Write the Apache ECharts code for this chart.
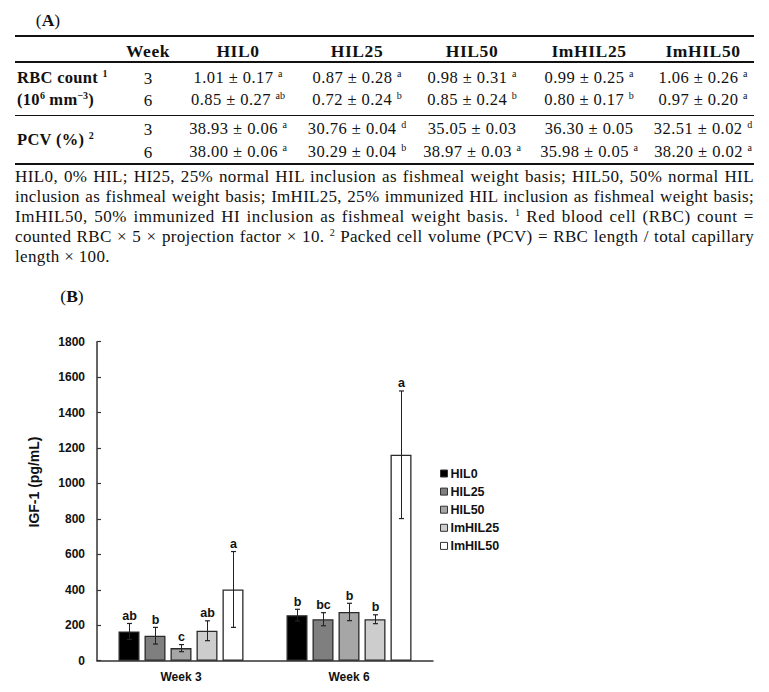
<!DOCTYPE html>
<html><head><meta charset="utf-8">
<script src="https://cdn.jsdelivr.net/npm/echarts@6/dist/echarts.min.js"></script>
<style>
html,body{margin:0;padding:0;background:#fff;}
#wrap{position:relative;width:769px;height:692px;overflow:hidden;background:#fff;}
#chart{position:absolute;left:0;top:0;width:769px;height:692px;}
.t{position:absolute;font-family:"Liberation Serif","Times New Roman",serif;color:#111;white-space:nowrap;line-height:1;}
.c{transform:translate(-50%,-50%);}
.l{transform:translate(0,-50%);}
.b{font-weight:bold;}
.rule{position:absolute;left:15px;width:739px;background:#111;}
sup{font-size:10px;vertical-align:0;position:relative;top:-6px;line-height:0;letter-spacing:0;}
.fnl{position:absolute;left:15px;font-family:"Liberation Serif","Times New Roman",serif;font-size:17px;color:#111;white-space:nowrap;line-height:1;transform:translate(0,-50%);}
</style></head>
<body><div id="wrap"><div id="chart"></div></div>
<script>
// ---------- Table (A) data ----------
const tableGroups = ['HIL0','HIL25','HIL50','ImHIL25','ImHIL50'];
const tableWeeks = ['3','6'];
const rbcWeek3 = ['1.01 ± 0.17','0.87 ± 0.28','0.98 ± 0.31','0.99 ± 0.25','1.06 ± 0.26'];
const rbcWeek3Sup = ['a','a','a','a','a'];
const rbcWeek6 = ['0.85 ± 0.27','0.72 ± 0.24','0.85 ± 0.24','0.80 ± 0.17','0.97 ± 0.20'];
const rbcWeek6Sup = ['ab','b','b','b','a'];
const pcvWeek3 = ['38.93 ± 0.06','30.76 ± 0.04','35.05 ± 0.03','36.30 ± 0.05','32.51 ± 0.02'];
const pcvWeek3Sup = ['a','d','','','d'];
const pcvWeek6 = ['38.00 ± 0.06','30.29 ± 0.04','38.97 ± 0.03','35.98 ± 0.05','38.20 ± 0.02'];
const pcvWeek6Sup = ['a','b','a','a','a'];
const footnoteLines = [
  'HIL0, 0% HIL; HI25, 25% normal HIL inclusion as fishmeal weight basis; HIL50, 50% normal HIL',
  'inclusion as fishmeal weight basis; ImHIL25, 25% immunized HIL inclusion as fishmeal weight basis;',
  'ImHIL50, 50% immunized HI inclusion as fishmeal weight basis. <sup>1</sup> Red blood cell (RBC) count =',
  'counted RBC × 5 × projection factor × 10. <sup>2</sup> Packed cell volume (PCV) = RBC length / total capillary',
  'length × 100.'
];

// ---------- Chart (B) data ----------
const chartWeeks = ['Week 3','Week 6'];
const seriesNames = ['HIL0','HIL25','HIL50','ImHIL25','ImHIL50'];
const igfWeek3 = [165, 141, 71, 169, 402];
const igfWeek6 = [257, 234, 275, 234, 1162];
const errWeek3 = [45, 47, 20, 56, 214];
const errWeek6 = [33, 37, 49, 25, 360];
const letterWeek3 = ['ab','b','c','ab','a'];
const letterWeek6 = ['b','bc','b','b','a'];
const yAxisMin = 0, yAxisMax = 1800, yAxisStep = 200;

// ---------- build table ----------
const wrap = document.getElementById('wrap');
function add(html, cls, x, y, size, extra){
  const d = document.createElement('div');
  d.className = 't ' + cls;
  d.style.left = x + 'px'; d.style.top = y + 'px'; d.style.fontSize = size + 'px';
  if (extra) Object.assign(d.style, extra);
  d.innerHTML = html; wrap.appendChild(d); return d;
}
function rule(y, h){
  const d = document.createElement('div'); d.className = 'rule';
  d.style.top = (y - h/2) + 'px'; d.style.height = h + 'px'; wrap.appendChild(d);
}
add('(<b>A</b>)', 'c', 48, 21, 17.5);
rule(36, 2); rule(62, 1.5); rule(115, 1); rule(164, 2);
const colX = [238, 357, 472, 589, 703];
const weekX = 148;
const headStyle = {letterSpacing:'0.6px'};
const cellStyle = {letterSpacing:'0.45px'};
add('Week', 'c b', weekX, 52, 17.5, headStyle);
tableGroups.forEach((g,i)=>add(g, 'c b', colX[i], 52, 17.5, headStyle));
add('RBC count <sup>1</sup>', 'l b', 17, 78, 16.5, {letterSpacing:'0.3px'});
add('(10<sup>6</sup> mm<sup>−3</sup>)', 'l b', 17, 100, 16.5, {letterSpacing:'0.3px'});
add('PCV (%) <sup>2</sup>', 'l b', 17, 140, 16.5, {letterSpacing:'0.3px'});
const rows = [
  [78, tableWeeks[0], rbcWeek3, rbcWeek3Sup],
  [100, tableWeeks[1], rbcWeek6, rbcWeek6Sup],
  [129, tableWeeks[0], pcvWeek3, pcvWeek3Sup],
  [152, tableWeeks[1], pcvWeek6, pcvWeek6Sup]
];
rows.forEach(r=>{
  add(r[1], 'c', weekX, r[0], 17);
  r[2].forEach((v,i)=>add(v + (r[3][i] ? ' <sup>' + r[3][i] + '</sup>' : ''), 'c', colX[i], r[0], 16.5, cellStyle));
});
const fnY = [176, 196, 216, 236, 256];
const FN_W = 739;
footnoteLines.forEach((txt,i)=>{
  const d = document.createElement('div'); d.className = 'fnl';
  d.style.top = fnY[i] + 'px'; d.innerHTML = txt; wrap.appendChild(d);
  const w0 = d.getBoundingClientRect().width;
  const chars = d.textContent.length;
  const ls = Math.max(0, Math.min(0.9, 0.7 * (FN_W - w0) / chars));
  d.style.letterSpacing = (i < footnoteLines.length - 1 ? ls : 0.35) + 'px';
  if (i < footnoteLines.length - 1){
    const w1 = d.getBoundingClientRect().width;
    const spaces = (d.textContent.match(/ /g) || []).length;
    d.style.wordSpacing = ((FN_W - w1) / spaces) + 'px';
  }
});
add('(<b>B</b>)', 'c', 72, 297, 17.5);

// ---------- chart ----------
const chart = echarts.init(document.getElementById('chart'), null, {renderer:'svg'});
const FONT = '"Liberation Sans", Arial, sans-serif';
const barColors = ['#000000','#7f7f7f','#a6a6a6','#cdcdcd','#ffffff'];
const BAR_W = 21, BAR_GAP = 5;
const series = seriesNames.map((n,i)=>({
  name:n, type:'bar', data:[igfWeek3[i], igfWeek6[i]],
  barWidth:BAR_W, barGap:(BAR_GAP / BAR_W * 100) + '%',
  itemStyle:{color:barColors[i], borderColor:'#2a2a2a', borderWidth:1.3},
  emphasis:{disabled:true}, z:2
}));
const errData = [];
seriesNames.forEach((n,i)=>{
  errData.push([0, i, igfWeek3[i], errWeek3[i]]);
  errData.push([1, i, igfWeek6[i], errWeek6[i]]);
});
const errLetters = [];
seriesNames.forEach((n,i)=>{ errLetters.push(letterWeek3[i]); errLetters.push(letterWeek6[i]); });
series.push({
  type:'custom', name:'errorbars', data:errData, encode:{x:0, y:2}, z:5, silent:true, clip:false,
  renderItem(params, api){
    const cat = api.value(0), k = api.value(1), v = api.value(2), e = api.value(3);
    const off = (k - 2) * (BAR_W + BAR_GAP);
    const pt = api.coord([cat, v + e]), pb = api.coord([cat, v - e]);
    const x = Math.round(pt[0] + off) + 0.5;
    const cap = 2.5;
    return {type:'group', children:[
      {type:'line', shape:{x1:x, y1:pt[1], x2:x, y2:pb[1]}, style:{stroke:'#222', lineWidth:1}},
      {type:'line', shape:{x1:x-cap, y1:pt[1], x2:x+cap, y2:pt[1]}, style:{stroke:'#222', lineWidth:1.2}},
      {type:'line', shape:{x1:x-cap, y1:pb[1], x2:x+cap, y2:pb[1]}, style:{stroke:'#222', lineWidth:1.2}},
      {type:'text', x:x, y:pt[1] - 1, style:{text:errLetters[params.dataIndex], fill:'#111',
        font:'bold 12.5px ' + FONT, textAlign:'center', textVerticalAlign:'bottom'}}
    ]};
  }
});
chart.setOption({
  animation:false,
  backgroundColor:'transparent',
  grid:{left:97, right:336, top:341.7, bottom:31.3},
  legend:{orient:'vertical', left:440, top:467, itemWidth:7, itemHeight:7, itemGap:5.1, icon:'rect',
    padding:0, data:seriesNames, selectedMode:false,
    itemStyle:{borderColor:'#333', borderWidth:1},
    textStyle:{fontFamily:FONT, fontWeight:'bold', fontSize:12.5, color:'#111', padding:[0,0,0,-2]}},
  xAxis:{type:'category', data:chartWeeks,
    axisLine:{lineStyle:{color:'#333', width:1.5}}, axisTick:{show:false},
    axisLabel:{fontFamily:FONT, fontWeight:'bold', fontSize:12, color:'#111', margin:10}},
  yAxis:{type:'value', min:yAxisMin, max:yAxisMax, interval:yAxisStep,
    axisLine:{show:true, lineStyle:{color:'#333', width:1.5}},
    axisTick:{show:true, inside:true, length:4, lineStyle:{color:'#333', width:1.2}},
    splitLine:{show:false},
    axisLabel:{fontFamily:FONT, fontWeight:'bold', fontSize:12, color:'#111', margin:12,
      formatter:(v)=>String(v)}},
  graphic:[{type:'text', x:33.5, y:482, rotation:Math.PI/2,
    style:{text:'IGF-1 (pg/mL)', font:'bold 14px ' + FONT, fill:'#111', textAlign:'center', textVerticalAlign:'middle'}}],
  series:series
});
</script></body></html>
